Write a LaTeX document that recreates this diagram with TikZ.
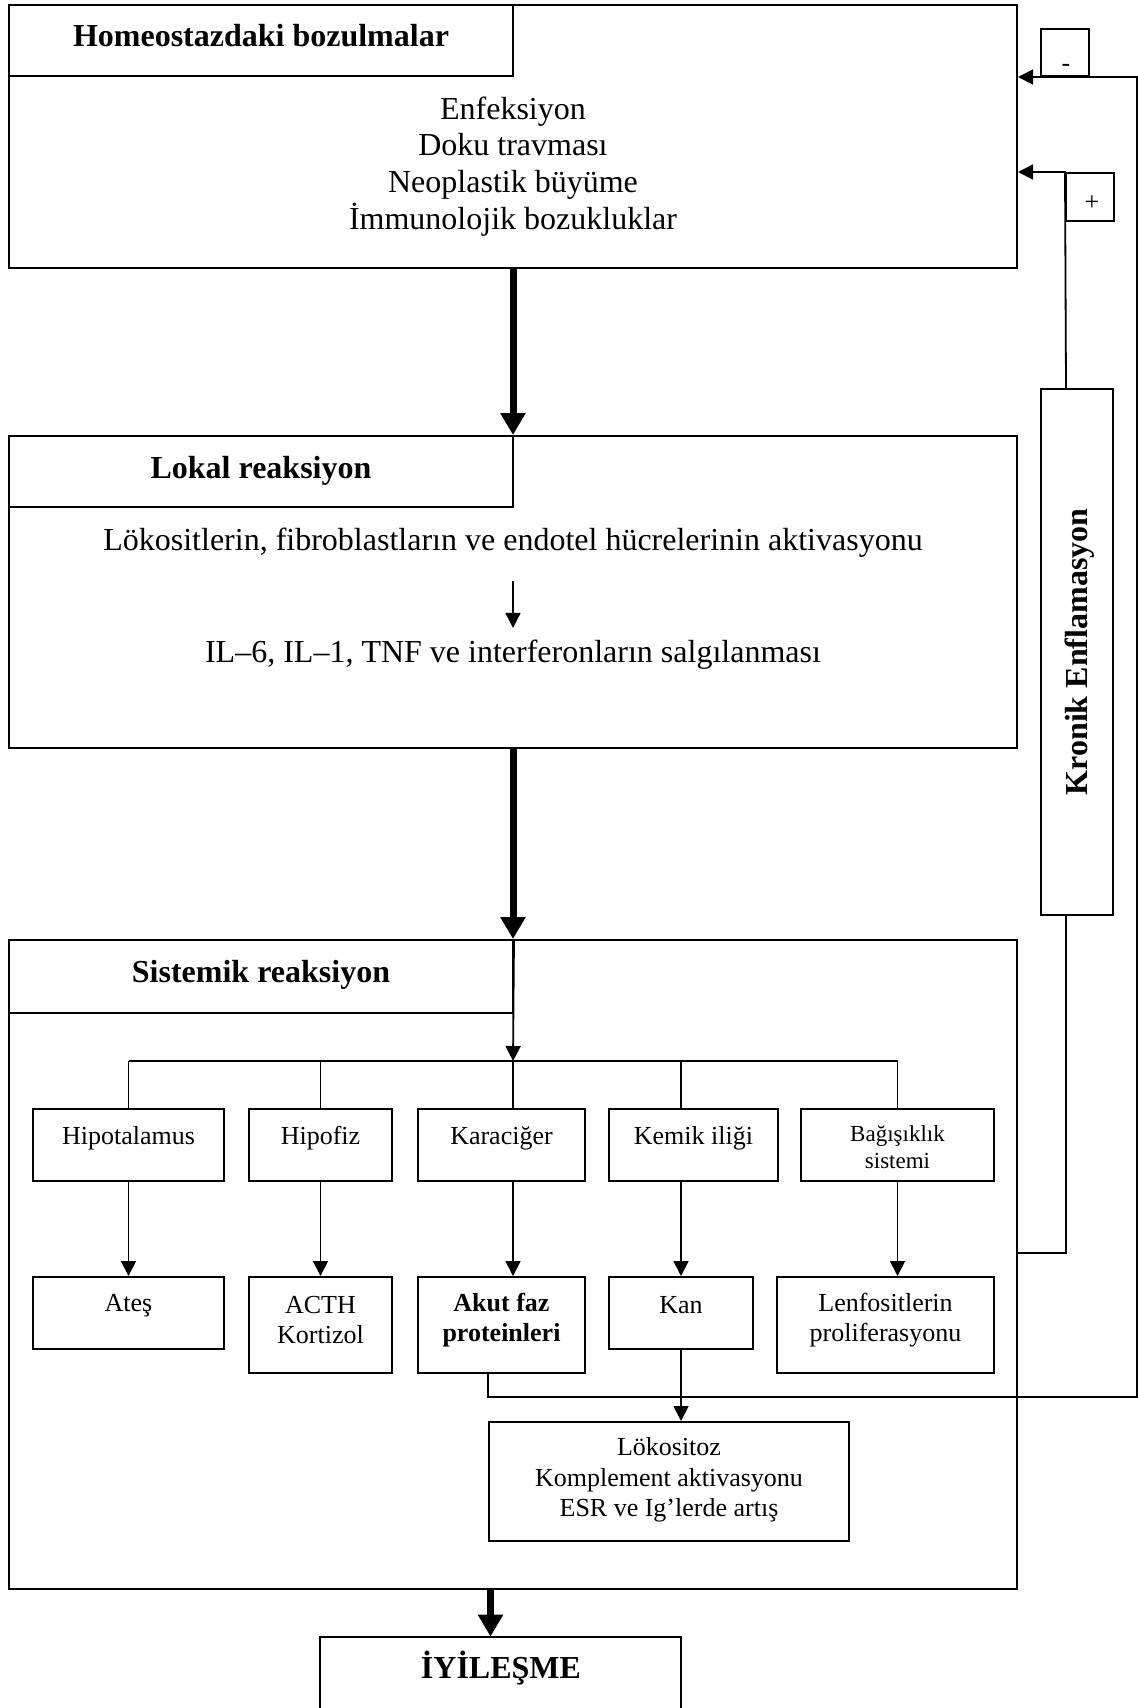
\documentclass[tikz,border=0pt]{standalone}
\usepackage{fontspec}
\setmainfont{Liberation Serif}
\usetikzlibrary{arrows.meta,fit}
\begin{document}
\begin{tikzpicture}[x=0.5pt,y=-0.5pt,
  box/.style={draw,line width=1pt,inner sep=0pt},
  conn/.style={line width=0.9pt},
  tarrow/.style={line width=0.9pt,-{Triangle[width=7.5pt,length=7.5pt]}},
  bigarrow/.style={line width=3.5pt,-{Triangle[width=12pt,length=11pt]}},
  bodytext/.style={font=\fontsize{16}{18.4}\selectfont,align=center,inner sep=0pt,yshift=-1.7pt},
  headtext/.style={font=\fontsize{16}{19}\selectfont\bfseries,inner sep=0pt},
  boxtext/.style={font=\fontsize{13}{15}\selectfont,align=center,inner sep=0pt,yshift=-1.7pt},
  smalltext/.style={font=\fontsize{11.5}{13.5}\selectfont,align=center,inner sep=0pt},
  boldboxtext/.style={font=\fontsize{13}{15}\selectfont\bfseries,align=center,inner sep=0pt,yshift=-1.7pt}
]
\useasboundingbox (0,0) rectangle (1138,1708);
\fill[white] (0,0) rectangle (1138,1708);

% top box
\node[box,fit={(9,5)(1017,268)}] (top) {};
\node[box,fit={(9,5)(513,76)}] (tophead) {};
\node[headtext] at ([yshift=2.5pt]tophead.center) {Homeostazdaki bozulmalar};
\node[bodytext] (topbody) at (513,163) {Enfeksiyon\\Doku travması\\Neoplastik büyüme\\İmmunolojik bozukluklar};

% local reaction
\node[box,fit={(9,436)(1017,748)}] (lokb) {};
\node[box,fit={(9,436)(513,507)}] (lokhead) {};
\node[headtext] at ([yshift=0.5pt]lokhead.center) {Lokal reaksiyon};
\node[bodytext] (l1) at (513,539) {Lökositlerin, fibroblastların ve endotel hücrelerinin aktivasyonu};
\node[bodytext] (l2) at (513,651) {IL–6, IL–1, TNF ve interferonların salgılanması};
\draw[tarrow] ([yshift=-11.8pt]l1.south) -- ([yshift=5.7pt]l2.north);

\draw[bigarrow] (top.south) -- (lokb.north);

% systemic reaction
\node[box,fit={(9,940)(1017,1589)}] (sys) {};
\node[box,fit={(9,940)(513,1013)}] (syshead) {};
\node[headtext] at ([yshift=1pt]syshead.center) {Sistemik reaksiyon};
\draw[bigarrow] (lokb.south) -- (sys.north);

% row 1
\node[box,fit={(33,1109)(224,1181)}] (hip) {};
\node[box,fit={(249,1109)(392,1181)}] (hipo) {};
\node[box,fit={(418,1109)(585,1181)}] (kar) {};
\node[box,fit={(609,1109)(778,1181)}] (kem) {};
\node[box,fit={(801,1109)(994,1181)}] (bag) {};
\node[boxtext] at ([yshift=-13.5pt]hip.north) {Hipotalamus};
\node[boxtext] at ([yshift=-13.5pt]hipo.north) {Hipofiz};
\node[boxtext] at ([yshift=-13.5pt]kar.north) {Karaciğer};
\node[boxtext] at ([yshift=-13.5pt]kem.north) {Kemik iliği};
\node[smalltext] at ([yshift=-19.75pt]bag.north) {Bağışıklık\\sistemi};

% row 2
\node[box,fit={(33,1277)(224,1349)}] (ates) {};
\node[box,fit={(249,1277)(392,1373)}] (acth) {};
\node[box,fit={(418,1277)(585,1373)}] (akut) {};
\node[box,fit={(609,1277)(753,1349)}] (kan) {};
\node[box,fit={(777,1277)(994,1373)}] (lenf) {};
\node[boxtext] at ([yshift=-13pt]ates.north) {Ateş};
\node[boxtext] at ([yshift=-20.5pt]acth.north) {ACTH\\Kortizol};
\node[boldboxtext] at ([yshift=-20.5pt]akut.north) {Akut faz\\proteinleri};
\node[boxtext] at ([yshift=-13pt]kan.north) {Kan};
\node[boxtext] at ([yshift=-20.5pt]lenf.north) {Lenfositlerin\\proliferasyonu};

% leukocytosis box
\node[box,fit={(489,1422)(849,1541)}] (leuk) {};
\node[boxtext,font=\fontsize{13}{15.25}\selectfont] at ([yshift=-27.75pt]leuk.north) {Lökositoz\\Komplement aktivasyonu\\ESR ve Ig’lerde artış};

% distribution
\coordinate (dist) at (513,1061);
\draw[tarrow] (syshead.north east) -- (dist);
\draw[conn] (hip.north |- dist) -- (bag.north |- dist);
\draw[conn] (hip.north |- dist) -- (hip.north);
\draw[conn] (hipo.north |- dist) -- (hipo.north);
\draw[conn] (dist) -- (dist |- kar.north);
\draw[conn] (kan.north |- dist) -- (kan.north |- kem.north);
\draw[conn] (bag.north |- dist) -- (bag.north);

% row arrows
\draw[tarrow] (hip.south) -- (ates.north);
\draw[tarrow] (hipo.south) -- (acth.north);
\draw[tarrow] (dist |- kar.south) -- (dist |- akut.north);
\draw[tarrow] (kan.north |- kem.south) -- (kan.north);
\draw[tarrow] (bag.south) -- (bag.south |- lenf.north);
\draw[tarrow] (kan.south) -- (kan.south |- leuk.north);

% negative feedback
\node[box,fit={(1041,29)(1089,76)}] (minus) {};
\node[boxtext,anchor=base] at (1066,68) {-};
\coordinate (br) at (1137,1397);
\draw[tarrow] (leuk.north west |- akut.south) -- (leuk.north west |- br) -- (br) -- (br |- minus.south) -- (top.east |- minus.south);

% chronic inflammation
\node[box,fit={(1041,389)(1113,915)}] (kron) {};
\node[headtext,rotate=90] at (1080,652) {Kronik Enflamasyon};
\node[box,fit={(1066,173)(1114,221)}] (plus) {};
\node[boxtext,anchor=base] at (1092,207) {+};
\coordinate (sr) at (1066,1253);
\draw[conn] (sys.east |- sr) -- (sr) -- (sr |- kron.south);
\draw[tarrow] (sr |- kron.north) -- (plus.north west) -- (top.east |- plus.north);

% healing
\node[fit={(320,1637)(681,1720)},inner sep=0pt] (iy) {};
\draw[line width=1pt] (iy.south west) -- (iy.north west) -- (iy.north east) -- (iy.south east);
\node[headtext] at (501,1668) {İYİLEŞME};
\coordinate (iyt) at ([xshift=-5pt]iy.north);
\draw[bigarrow] (iyt |- sys.south) -- (iyt);
\end{tikzpicture}
\end{document}
